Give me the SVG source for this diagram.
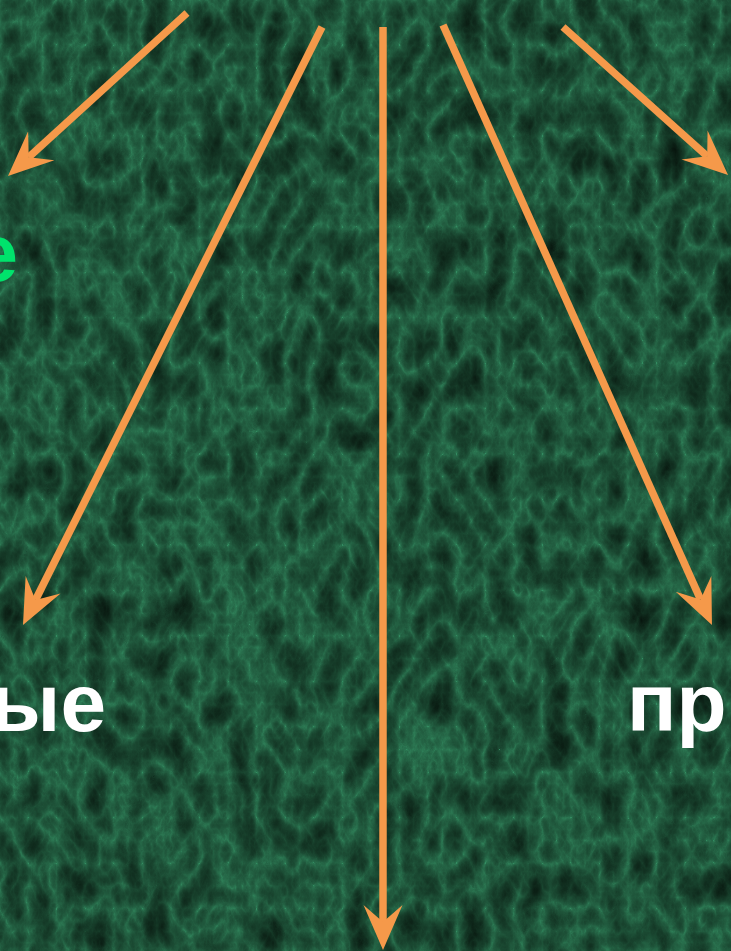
<svg xmlns="http://www.w3.org/2000/svg" width="731" height="951" viewBox="0 0 731 951">
  <style>
    .arrow { stroke: #f5994a; stroke-width: 7.5; fill: none; marker-end: url(#head); }
    .lbl { font-family: "Liberation Sans", Arial, sans-serif; font-weight: bold; font-size: 82px; }
    .white { fill: #ffffff; }
    .green { fill: #00e36c; }
  </style>
  <defs>
    <filter id="marble" x="0" y="0" width="731" height="951" filterUnits="userSpaceOnUse" color-interpolation-filters="sRGB">
      <feTurbulence type="turbulence" baseFrequency="0.035 0.022" numOctaves="5" seed="7" result="n"/>
      <feComponentTransfer in="n" result="g">
        <feFuncR type="gamma" amplitude="0.8" exponent="0.6" offset="0"/>
      </feComponentTransfer>
      <feColorMatrix in="g" type="matrix" values="-0.22 0 0 0 0.2  -0.6 0 0 0 0.55  -0.42 0 0 0 0.38  0 0 0 0 1"/>
    </filter>
    <marker id="head" viewBox="0 -21 46 42" markerWidth="46" markerHeight="42" refX="17" refY="0" orient="auto" markerUnits="userSpaceOnUse">
      <path d="M45,0 L0,-19.5 L17,0 L0,19.5 Z" fill="#f5994a"/>
    </marker>
  </defs>
  <rect id="background" x="0" y="0" width="731" height="951" fill="#1c5234"/>
  <rect x="0" y="0" width="731" height="951" filter="url(#marble)"/>

  <g id="connectors">
    <line class="arrow" x1="187" y1="13" x2="28.7" y2="157.2"/>
    <line class="arrow" x1="322" y1="27" x2="35.5" y2="600"/>
    <line class="arrow" x1="383" y1="27" x2="383" y2="922"/>
    <line class="arrow" x1="443" y1="25" x2="700.5" y2="599.4"/>
    <line class="arrow" x1="563" y1="27" x2="707.2" y2="156.3"/>
  </g>

  <g id="node-e">
    <text class="lbl green" x="18" y="281" text-anchor="end">е</text>
  </g>
  <g id="node-ye">
    <text class="lbl white" x="106" y="731" text-anchor="end">ые</text>
  </g>
  <g id="node-pr">
    <text class="lbl white" x="627" y="731">пр</text>
  </g>
</svg>
